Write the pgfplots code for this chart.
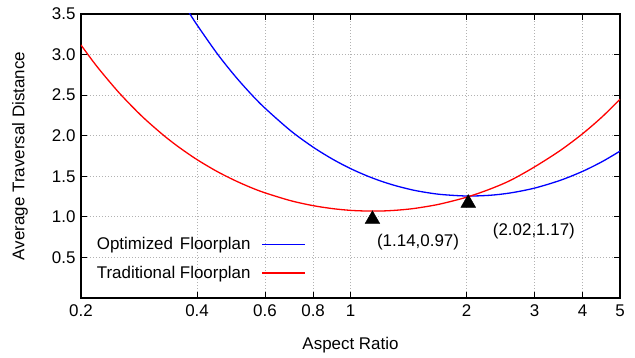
\documentclass[border=0pt]{standalone}
\usepackage{fontspec}
\setmainfont{Liberation Sans}
\usepackage{pgfplots}
\pgfplotsset{compat=1.18}
\newcommand{\myfont}{\fontsize{17}{20}\selectfont}

\begin{document}
\begin{tikzpicture}
\begin{axis}[
  at={(0,0)}, anchor=south west,
  scale only axis, width=539bp, height=284bp,
  xmode=log, xmin=0.2, xmax=5, ymin=0, ymax=3.5,
  xtick={0.2,0.4,0.6,0.8,1,2,3,4,5},
  xticklabels={0.2,0.4,0.6,0.8,1,2,3,4,5},
  minor xtick={},
  ytick={0.5,1,1.5,2,2.5,3,3.5},
  yticklabels={0.5,1.0,1.5,2.0,2.5,3.0,3.5},
  tick pos=both, tick align=inside,
  major tick length=6bp,
  every tick/.style={black, line width=0.8bp},
  grid=major,
  major grid style={gray!60, line width=0.8bp, dash pattern=on 1bp off 2bp},
  axis line style={black, line width=1.2bp},
  tick label style={font=\myfont},
  xticklabel style={yshift=-3bp},
  yticklabel style={xshift=-2bp},
  xlabel={Aspect Ratio}, ylabel={Average Traversal Distance},
  xlabel style={font=\myfont, at={(axis description cs:0.5,-0.1655)}, anchor=center},
  ylabel style={font=\myfont, at={(axis description cs:-0.113,0.5)}, rotate=0, anchor=center},
  legend plot pos=right,
  legend cell align=left,
  legend style={draw=none, fill=none, font=\myfont, at={(axis description cs:0.029,0.214)}, anchor=north west, row sep=15bp, column sep=11bp, inner sep=0pt, nodes={inner sep=0pt}},
  legend image code/.code={\draw[#1, line width=1.4bp] (0bp,0bp) -- (43bp,0bp);},
]
\addplot[blue, line width=1.3bp, smooth] coordinates {
(0.36,3.715) (0.38,3.530) (0.4,3.365) (0.45,3.018) (0.5,2.744) (0.55,2.522)
(0.6,2.340) (0.7,2.060) (0.8,1.859) (0.9,1.709) (1.0,1.595) (1.1,1.508)
(1.2,1.440) (1.3,1.388) (1.4,1.348) (1.5,1.317) (1.7,1.278) (2.0,1.257)
(2.3,1.266) (2.6,1.295) (3.0,1.354) (3.5,1.450) (4.0,1.561) (4.5,1.682) (5.0,1.810)
};
\addlegendentry{\rlap{Optimized}\phantom{Traditional}~Floorplan}
\addplot[red, line width=1.3bp, smooth] coordinates {
(0.2,3.118) (0.22,2.853) (0.25,2.539) (0.28,2.295) (0.3,2.161) (0.33,1.992)
(0.36,1.854) (0.4,1.705) (0.45,1.561) (0.5,1.451) (0.55,1.364) (0.6,1.296)
(0.7,1.199) (0.8,1.138) (0.9,1.101) (1.0,1.080) (1.1,1.072) (1.2,1.072)
(1.3,1.080) (1.4,1.093) (1.5,1.111) (1.7,1.156) (2.0,1.242) (2.3,1.342)
(2.6,1.450) (3.0,1.615) (3.5,1.818) (4.0,2.025) (4.5,2.235) (5.0,2.450)
};
\addlegendentry{Traditional Floorplan}
\addplot[only marks, mark=triangle*, mark size=8.5bp, black, forget plot] coordinates {(1.14,0.97) (2.02,1.17)};
\node[font=\myfont, anchor=center] at (axis cs:1.497,0.689) {(1.14,0.97)};
\node[font=\myfont, anchor=center] at (axis cs:2.99,0.825) {(2.02,1.17)};
\end{axis}
\pgfresetboundingbox
\path[use as bounding box] (-81bp,-60bp) rectangle (554bp,298bp);
\end{tikzpicture}
\end{document}
